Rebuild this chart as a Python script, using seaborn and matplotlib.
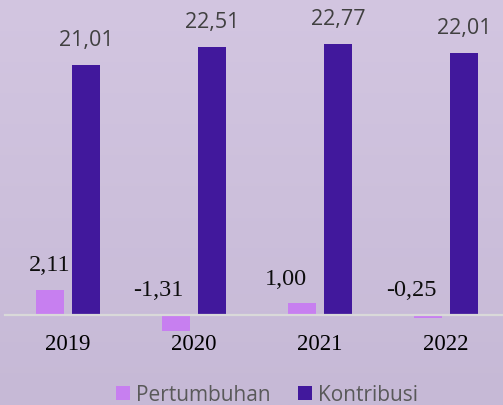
import numpy as np
import pandas as pd
import seaborn as sns
import matplotlib.pyplot as plt
from matplotlib.colors import LinearSegmentedColormap

# data
tahun = ['2019', '2020', '2021', '2022']
pertumbuhan = [2.11, -1.31, 1.00, -0.25]
kontribusi = [21.01, 22.51, 22.77, 22.01]
label_pert = ['2,11', '-1,31', '1,00', '-0,25']
label_kontr = ['21,01', '22,51', '22,77', '22,01']

df = pd.DataFrame({
    'Tahun': tahun * 2,
    'Nilai': pertumbuhan + kontribusi,
    'Seri': ['Pertumbuhan'] * 4 + ['Kontribusi'] * 4,
})

sns.set_theme(style='white')
W, H, DPI = 503, 406, 100
fig = plt.figure(figsize=(W / DPI, H / DPI), dpi=DPI)

# latar gradien ungu muda
bg = fig.add_axes([0, 0, 1, 1], zorder=0)
grad = np.linspace(0, 1, 256).reshape(-1, 1)
cmap = LinearSegmentedColormap.from_list('bg', ['#d3c6e1', '#c6b9d6'])
bg.imshow(grad, aspect='auto', cmap=cmap, extent=[0, 1, 0, 1])
bg.axis('off')

ax = fig.add_axes([5 / W, 0, 504 / W, 1], zorder=1)
ax.patch.set_alpha(0)
sns.barplot(data=df, x='Tahun', y='Nilai', hue='Seri',
            palette=['#c77ff0', '#41189c'], saturation=1,
            width=0.571, gap=0.222, linewidth=0, ax=ax)

px = 11.89  # piksel per satuan
ax.set_ylim(-90 / px, 316 / px)
ax.set_xlim(-0.5, 3.5)
ax.set_yticks([])
ax.set_xlabel('')
ax.set_ylabel('')
for s in ['top', 'left', 'right']:
    ax.spines[s].set_visible(False)
ax.spines['bottom'].set_position(('data', 0))
ax.spines['bottom'].set_color('#d9d9d9')
ax.spines['bottom'].set_linewidth(1.6)
ax.tick_params(axis='x', length=0, pad=13)
for t in ax.get_xticklabels():
    t.set_fontfamily('Liberation Serif')
    t.set_fontsize(16.5)
    t.set_color('#000000')

# label data
pt = 72 / DPI
dx_pert = [0, -18, -16, -17]
for i, bar in enumerate(ax.containers[0]):
    x = bar.get_x() + bar.get_width() / 2
    y = max(bar.get_height(), 0)
    ax.annotate(label_pert[i], (x, y), xytext=(dx_pert[i] * pt, 25 * pt),
                textcoords='offset points', ha='center', va='center',
                family='Liberation Serif', fontsize=17.5, color='#0d0d0d')
for i, bar in enumerate(ax.containers[1]):
    x = bar.get_x() + bar.get_width() / 2
    y = bar.get_height()
    ax.annotate(label_kontr[i], (x, y), xytext=(0, 26 * pt),
                textcoords='offset points', ha='center', va='center',
                family='Open Sans', fontsize=15.5, color='#404040')

sns.move_legend(ax, 'center', bbox_to_anchor=(267 / W, 1 - 396 / H),
                bbox_transform=fig.transFigure, ncol=2, frameon=False,
                title=None, prop={'family': 'Open Sans', 'size': 15},
                handlelength=0.67, handleheight=0.67, handletextpad=0.3,
                columnspacing=1.3, labelcolor='#595959')
for h in ax.get_legend().legend_handles:
    h.set_linewidth(0)

fig.savefig('out.png', dpi=DPI)
